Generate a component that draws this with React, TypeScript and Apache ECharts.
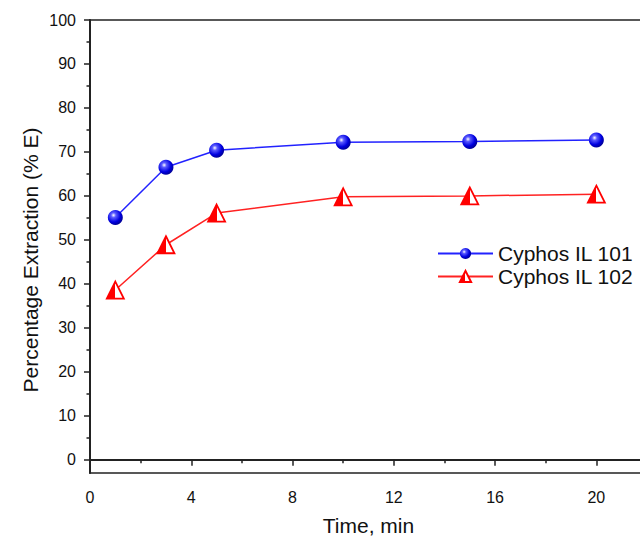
import React, { useEffect, useRef } from "react";
import * as echarts from "echarts";

const timeMin = [1, 3, 5, 10, 15, 20];
const il101 = [55.1, 66.5, 70.4, 72.2, 72.4, 72.7];
const il102 = [38.6, 48.9, 56.1, 59.8, 60.0, 60.4];
const yMajor = [0, 10, 20, 30, 40, 50, 60, 70, 80, 90, 100];
const yMinor = [5, 15, 25, 35, 45, 55, 65, 75, 85, 95];
const xMajor = [0, 4, 8, 12, 16, 20];
const xMinor = [2, 6, 10, 14, 18];
const yTitle = "Percentage Extraction (% E)";
const xTitle = "Time, min";

const FONT = "Liberation Sans, Arial, sans-serif";

export default function App() {
  const ref = useRef<HTMLDivElement>(null);
  useEffect(() => {
    const chart = echarts.init(ref.current!, null, { renderer: "svg" });
    const axisLine = { show: true, lineStyle: { color: "#222", width: 2 } };
    chart.setOption({
      animation: false,
      backgroundColor: "#fff",
      grid: {
        left: 90,
        top: 20,
        right: -7,
        bottom: 63,
        show: true,
        borderColor: "#222",
        borderWidth: 1.5,
        outerBoundsMode: "none",
        containLabel: false,
      },
      legend: {
        orient: "vertical",
        left: 432,
        top: 238,
        itemWidth: 55,
        itemHeight: 14,
        itemGap: 2,
        textStyle: { fontSize: 21, color: "#111", fontFamily: FONT },
        data: ["Cyphos IL 101", "Cyphos IL 102"],
      },
      graphic: [
        {
          type: "text",
          x: 30,
          y: 260,
          rotation: Math.PI / 2,
          style: {
            text: yTitle,
            fontSize: 21,
            fontFamily: FONT,
            fill: "#111",
            align: "center",
            verticalAlign: "middle",
          },
        },
      ],
      xAxis: [
        {
          type: "value",
          min: 0,
          max: 22,
          name: xTitle,
          nameLocation: "middle",
          nameGap: 42,
          nameTextStyle: { fontSize: 21, color: "#111", fontFamily: FONT },
          axisLine,
          axisTick: { show: true, length: 6, lineStyle: { color: "#222", width: 1.5 }, customValues: xMajor },
          axisLabel: { fontSize: 16, color: "#111", fontFamily: FONT, margin: 16, customValues: xMajor },
          splitLine: { show: false },
        },
        {
          type: "value",
          min: 0,
          max: 22,
          position: "bottom",
          axisLine: { show: false },
          axisTick: { show: true, length: 3.5, lineStyle: { color: "#222", width: 1.5 }, customValues: xMinor },
          axisLabel: { show: false },
          splitLine: { show: false },
        },
      ],
      yAxis: [
        {
          type: "value",
          min: -3,
          max: 100,
          axisLine,
          axisTick: { show: true, length: 6, lineStyle: { color: "#222", width: 1.5 }, customValues: yMajor },
          axisLabel: { fontSize: 16, color: "#111", fontFamily: FONT, margin: 14, customValues: yMajor },
          splitLine: { show: false },
        },
        {
          type: "value",
          min: -3,
          max: 100,
          position: "left",
          axisLine: { show: false },
          axisTick: { show: true, length: 3.5, lineStyle: { color: "#222", width: 1.5 }, customValues: yMinor },
          axisLabel: { show: false },
          splitLine: { show: false },
        },
      ],
      series: [
        {
          name: "Cyphos IL 101",
          type: "line",
          data: timeMin.map((t, i) => [t, il101[i]]),
          symbol: "circle",
          symbolSize: 15,
          lineStyle: { color: "#2222ff", width: 1.5 },
          itemStyle: {
            color: {
              type: "radial",
              x: 0.38,
              y: 0.35,
              r: 0.65,
              colorStops: [
                { offset: 0, color: "#ffffff" },
                { offset: 0.25, color: "#5a5aff" },
                { offset: 0.7, color: "#0000e0" },
                { offset: 1, color: "#00009a" },
              ],
            },
            borderWidth: 0,
          },
        },
        {
          name: "Cyphos IL 102",
          type: "line",
          data: timeMin.map((t, i) => [t, il102[i]]),
          symbol: "triangle",
          symbolSize: 17,
          lineStyle: { color: "#ff2222", width: 1.5 },
          itemStyle: {
            color: {
              type: "linear",
              x: 0,
              y: 0,
              x2: 1,
              y2: 0,
              colorStops: [
                { offset: 0, color: "#ff0000" },
                { offset: 0.5, color: "#ff0000" },
                { offset: 0.5, color: "#ffffff" },
                { offset: 1, color: "#ffffff" },
              ],
            },
            borderColor: "#ff0000",
            borderWidth: 1.8,
          },
        },
      ],
    });
    return () => chart.dispose();
  }, []);
  return <div ref={ref} style={{ position: "fixed", left: 0, top: 0, width: 640, height: 536 }} />;
}
